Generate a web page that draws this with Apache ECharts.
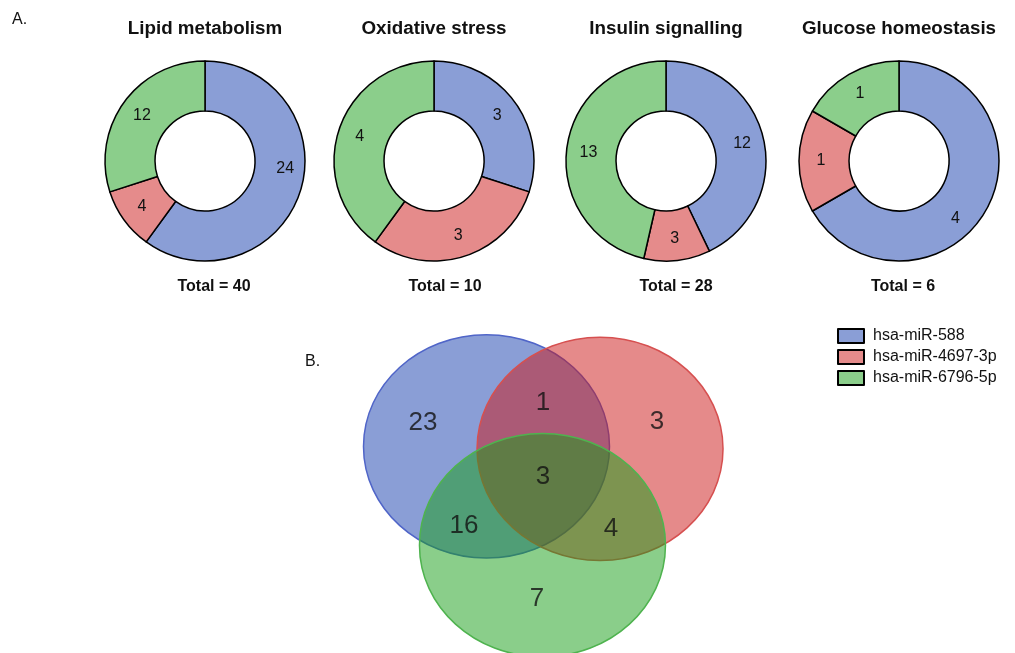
<!DOCTYPE html>
<html>
<head>
<meta charset="utf-8">
<title>miRNA target genes by pathway</title>
<script src="https://cdn.jsdelivr.net/npm/echarts@6/dist/echarts.min.js"></script>
<style>
  html, body { margin: 0; padding: 0; background: #fff; }
  #chart { width: 1015px; height: 653px; }
</style>
</head>
<body>
<div id="chart"></div>
<script>
// Pathways (one donut each)
const categories = ['Lipid metabolism', 'Oxidative stress', 'Insulin signalling', 'Glucose homeostasis'];
// miRNAs
const mirnas = ['hsa-miR-588', 'hsa-miR-4697-3p', 'hsa-miR-6796-5p'];
// Target-gene counts per pathway, one array per miRNA
const mir588 = [24, 3, 12, 4];
const mir4697 = [4, 3, 3, 1];
const mir6796 = [12, 4, 13, 1];

// Venn regions: which sets each region belongs to, and its gene count
const vennRegions = ['588', '588&4697', '4697', '588&4697&6796', '588&6796', '4697&6796', '6796'];
const vennCounts = [23, 1, 3, 3, 16, 4, 7];

// ---- layout & style ----
const palette = ['#8a9ed6', '#e58b8b', '#8bce8b'];
const vennFill = ['rgba(21,61,173,0.5)', 'rgba(203,21,21,0.5)', 'rgba(21,157,21,0.5)'];
const vennStroke = ['#5065c8', '#d65050', '#4fb34f'];
const FONT = '"Liberation Sans", Arial, Helvetica, sans-serif';

const pieCentersX = [205, 434, 666, 899];
const totalCentersX = [214, 445, 676, 903];
const pieCenterY = 161;
// label nudges for the two large slices
const labelNudge = { '0-0': [6, -17], '3-0': [-11, 19] };

// Venn geometry in unit space (ellipse semi-axes = 1)
const vennSets = [[0, 0], [0.923, -0.022], [0.455, -0.884]];
const vennLabelPos = [
  [-0.516, 0.214], [0.459, 0.393], [1.386, 0.223], [0.459, -0.268],
  [-0.183, -0.714], [1.012, -0.741], [0.411, -1.366]
];

const seriesValues = [mir588, mir4697, mir6796];

const pieSeries = categories.map((cat, i) => ({
  type: 'pie',
  name: cat,
  center: [pieCentersX[i], pieCenterY],
  radius: [50, 100],
  startAngle: 90,
  clockwise: true,
  avoidLabelOverlap: false,
  silent: true,
  itemStyle: { borderColor: '#000', borderWidth: 1.5 },
  label: {
    show: true, position: 'inside', formatter: '{c}',
    color: '#111', fontSize: 16, fontFamily: FONT
  },
  labelLine: { show: false },
  emphasis: { disabled: true },
  data: mirnas.map((m, k) => {
    const item = { name: m, value: seriesValues[k][i] };
    const nudge = labelNudge[i + '-' + k];
    if (nudge) item.label = { offset: nudge };
    return item;
  })
}));

const texts = [];
categories.forEach((cat, i) => {
  const total = seriesValues.reduce((s, arr) => s + arr[i], 0);
  texts.push({
    type: 'text', x: pieCentersX[i], y: 29,
    style: { text: cat, font: 'bold 18.8px ' + FONT, fill: '#111', textAlign: 'center', textVerticalAlign: 'middle' }
  });
  texts.push({
    type: 'text', x: totalCentersX[i], y: 287,
    style: { text: 'Total = ' + total, font: 'bold 16px ' + FONT, fill: '#111', textAlign: 'center', textVerticalAlign: 'middle' }
  });
});
texts.push({ type: 'text', x: 12, y: 20, style: { text: 'A.', font: '16px ' + FONT, fill: '#111', textVerticalAlign: 'middle' } });
texts.push({ type: 'text', x: 305, y: 362, style: { text: 'B.', font: '16px ' + FONT, fill: '#111', textVerticalAlign: 'middle' } });

const option = {
  animation: false,
  backgroundColor: '#fff',
  color: palette,
  graphic: texts,
  legend: {
    orient: 'vertical',
    left: 832, top: 323,
    icon: 'rect',
    itemWidth: 26, itemHeight: 14,
    itemGap: 5,
    selectedMode: false,
    data: mirnas,
    itemStyle: { borderColor: '#000', borderWidth: 2 },
    textStyle: { fontSize: 16, fontFamily: FONT, color: '#111', padding: [0, 0, 0, 4] }
  },
  grid: { left: 302, top: 318, width: 492, height: 336, containLabel: false },
  xAxis: { type: 'value', min: -1.5, max: 2.5, show: false },
  yAxis: { type: 'value', min: -1.85, max: 1.15, show: false },
  series: pieSeries.concat([
    {
      type: 'custom',
      name: 'venn-sets',
      silent: true,
      data: vennSets.map((c, k) => [c[0], c[1], k]),
      renderItem: function (params, api) {
        const k = api.value(2);
        const p = api.coord([api.value(0), api.value(1)]);
        const sz = api.size([1, 1]);
        return {
          type: 'ellipse',
          shape: { cx: p[0], cy: p[1], rx: sz[0], ry: sz[1] },
          style: { fill: vennFill[k], stroke: vennStroke[k], lineWidth: 1.5 }
        };
      }
    },
    {
      type: 'scatter',
      name: 'venn-counts',
      silent: true,
      symbolSize: 0,
      data: vennCounts.map((v, j) => ({ name: vennRegions[j], value: [vennLabelPos[j][0], vennLabelPos[j][1], v] })),
      label: {
        show: true, position: 'inside',
        formatter: p => String(p.value[2]),
        fontSize: 26, color: '#111', fontFamily: FONT
      },
      z: 5
    }
  ])
};

const chart = echarts.init(document.getElementById('chart'), null, { renderer: 'canvas' });
chart.setOption(option);
</script>
</body>
</html>
